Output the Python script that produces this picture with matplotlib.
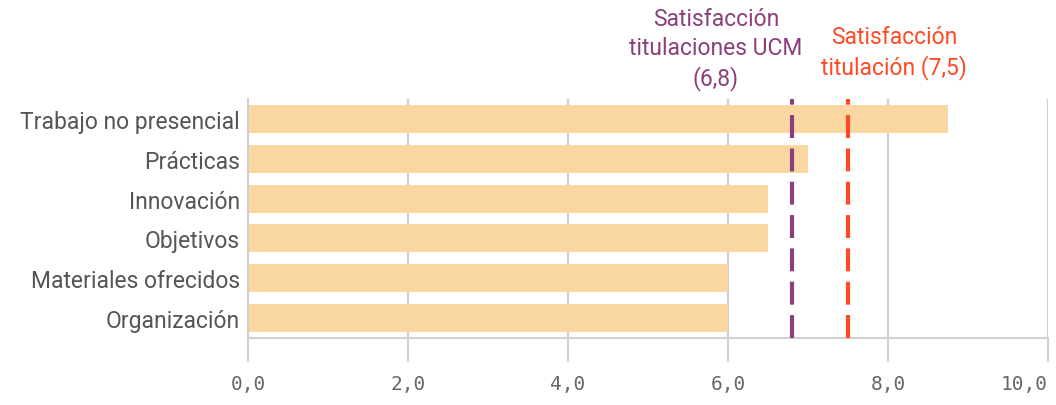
import matplotlib.pyplot as plt
import numpy as np

categorias = ["Trabajo no presencial", "Prácticas", "Innovación", "Objetivos",
              "Materiales ofrecidos", "Organización"]
valores = [8.75, 7.0, 6.5, 6.5, 6.0, 6.0]
media_ucm = 6.8
media_titulacion = 7.5
ticks_x = [0, 2, 4, 6, 8, 10]
etiquetas_x = ["0,0", "2,0", "4,0", "6,0", "8,0", "10,0"]

plt.rcParams['font.family'] = ['Roboto', 'DejaVu Sans']

fig = plt.figure(figsize=(10.56, 4.06), dpi=100)
ax = fig.add_axes([248/1056, 1 - 339/406, 800/1056, 239/406])

y = np.arange(len(categorias))
ax.barh(y, valores, height=0.7, color="#fad7a1", zorder=2)
ax.set_ylim(len(categorias) - 0.5, -0.5)
ax.set_xlim(0, 10)

# rejilla vertical
for t in ticks_x:
    ax.axvline(t, color="#d0d0d0", lw=1.5, zorder=1)

ax.axvline(media_ucm, color="#8b3f7d", lw=3, ls=(0, (5.5, 2.5)), zorder=3)
ax.axvline(media_titulacion, color="#ff4a24", lw=3, ls=(0, (5.5, 2.5)), zorder=3)

ax.set_yticks(y)
ax.set_yticklabels(categorias, fontsize=16.5, color="#555555")
ax.tick_params(axis='y', length=0, pad=6)

ax.set_xticks(ticks_x)
ax.set_xticklabels(etiquetas_x, fontsize=14, color="#666666", family="DejaVu Sans Mono")
ax.tick_params(axis='x', length=17, width=1.5, color="#d0d0d0", pad=9)
ax.get_xticklabels()[-1].set_ha("right")

for s in ["top", "right"]:
    ax.spines[s].set_visible(False)
ax.spines["left"].set_color("#d0d0d0")
ax.spines["left"].set_linewidth(1.5)
ax.spines["bottom"].set_color("#d0d0d0")
ax.spines["bottom"].set_linewidth(1.5)

ax.text(media_ucm - 0.95, -0.72, "Satisfacción\ntitulaciones UCM\n(6,8)", ha="center", va="bottom",
        fontsize=16.5, color="#8b3f7d", linespacing=1.33, clip_on=False)
ax.text(media_titulacion + 0.58, -1.0, "Satisfacción\ntitulación (7,5)", ha="center", va="bottom",
        fontsize=16.5, color="#ff4a24", linespacing=1.33, clip_on=False)

fig.savefig("out.png", dpi=100)
